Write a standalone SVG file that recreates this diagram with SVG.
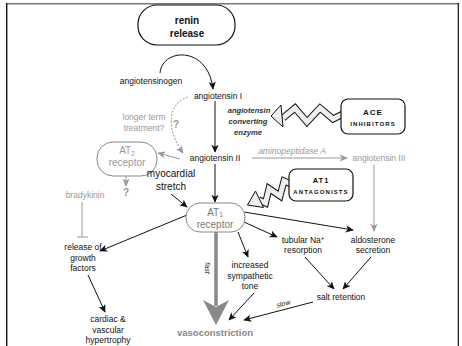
<svg xmlns="http://www.w3.org/2000/svg" width="462" height="346" viewBox="0 0 462 346">
<defs>
<style>
text{font-family:"Liberation Sans",Arial,sans-serif;font-size:8.5px;text-anchor:middle;fill:#111}
.g{fill:#999}
.it{font-style:italic}
.ace{font-style:italic;font-weight:bold;font-size:7.6px;fill:#333}
.box{fill:#fff;stroke:#111;stroke-width:1.2}
.gbox{fill:#fff;stroke:#888;stroke-width:1}
.ln{fill:none;stroke:#111;stroke-width:1}
.gl{fill:none;stroke:#999;stroke-width:1}
.caps{font-weight:bold;font-size:6px;letter-spacing:1.1px}
</style>
<marker id="ah" viewBox="0 0 10 10" refX="9" refY="5" markerWidth="8" markerHeight="8" markerUnits="userSpaceOnUse" orient="auto"><path d="M0,0.5 L10,5 L0,9.5 L2.5,5 z" fill="#111"/></marker>
<marker id="gh" viewBox="0 0 10 10" refX="9" refY="5" markerWidth="8" markerHeight="8" markerUnits="userSpaceOnUse" orient="auto"><path d="M0,0.5 L10,5 L0,9.5 L2.5,5 z" fill="#999"/></marker>
</defs>
<rect width="462" height="346" fill="#fff"/>
<g id="frame">
<line x1="6" y1="3.7" x2="459" y2="3.7" stroke="#777" stroke-width="1.6"/>
<line x1="6.7" y1="3" x2="6.7" y2="346" stroke="#111" stroke-width="1.4"/>
<line x1="458.3" y1="3" x2="458.3" y2="346" stroke="#111" stroke-width="1.2"/>
</g>
<g id="connectors">
<path class="ln" d="M160,73 C162,48 208,45 213,89" marker-end="url(#ah)"/>
<path class="ln" d="M215,101 L215,152" marker-end="url(#ah)"/>
<path d="M188,97 C168,103 165,128 183,153" fill="none" stroke="#999" stroke-width="1" stroke-dasharray="2,1.5" marker-end="url(#gh)"/>
<path class="gl" d="M180,159 L158,153" marker-end="url(#gh)"/>
<path class="gl" d="M126,176 L126,186" marker-end="url(#gh)"/>
<path class="gl" d="M82,202 L82,237 M77,237 L88,237"/>
<path class="ln" d="M171,194 L187,207" marker-end="url(#ah)"/>
<path class="ln" d="M215,164 L215,202" marker-end="url(#ah)"/>
<path class="gl" d="M252,158 L347,158" marker-end="url(#gh)"/>
<path class="gl" d="M374,165 L374,231" marker-end="url(#gh)"/>
<path class="ln" d="M187,215 L100,251" marker-end="url(#ah)"/>
<path d="M216,232 L216,306" stroke="#888" stroke-width="3.5" fill="none"/>
<polygon points="203,300 216,325 229,300 216,307" fill="#888"/>
<path class="ln" d="M238,232 L248,257" marker-end="url(#ah)"/>
<path class="ln" d="M244,222 L277,237" marker-end="url(#ah)"/>
<path class="ln" d="M244,212 L353,230" marker-end="url(#ah)"/>
<path class="ln" d="M305,257 L334,289" marker-end="url(#ah)"/>
<path class="ln" d="M371,257 L343,289" marker-end="url(#ah)"/>
<path class="ln" d="M313,302 L244,320" marker-end="url(#ah)"/>
<path class="ln" d="M254,293 L229,320" marker-end="url(#ah)"/>
<path class="ln" d="M88,275 L105,312" marker-end="url(#ah)"/>
<text class="it" transform="translate(205,268) rotate(90)" style="font-size:7px">fast</text>
<text class="it" transform="translate(284,306) rotate(-15)" style="font-size:7px">slow</text>
</g>
<g id="renin">
<rect class="box" x="138" y="5" width="97" height="40" rx="19"/>
<text x="187" y="24" style="font-weight:bold;font-size:10px">renin</text>
<text x="187" y="37" style="font-weight:bold;font-size:10px">release</text>
</g>
<g id="angiotensinogen"><text x="151" y="84">angiotensinogen</text></g>
<g id="angiotensinI"><text x="218" y="99">angiotensin I</text></g>
<g id="angiotensinII"><text x="215" y="161">angiotensin II</text></g>
<g id="angiotensinIII"><text class="g" x="379" y="161">angiotensin III</text></g>
<g id="aminopeptidase"><text class="g it" x="292" y="154">aminopeptidase A</text></g>
<g id="ace-enzyme">
<text class="ace" x="249" y="113">angiotensin</text>
<text class="ace" x="248" y="124">converting</text>
<text class="ace" x="248" y="135">enzyme</text>
</g>
<g id="ace-zigzag">
<polyline points="343,114 333,119 320,108 307,122 295,108 283,118" fill="none" stroke="#111" stroke-width="7"/>
<polyline points="343,114 333,119 320,108 307,122 295,108 283,118" fill="none" stroke="#eee" stroke-width="5"/>
<polygon points="271,116 281,105 283,127" fill="#eee" stroke="#111" stroke-width="1"/>
</g>
<g id="ace-inhibitors">
<rect class="box" x="341" y="99" width="64" height="35" rx="7"/>
<text x="373" y="115" style="font-weight:bold;font-size:8px;letter-spacing:1px">ACE</text>
<text class="caps" x="373" y="125.5">INHIBITORS</text>
</g>
<g id="at1-zigzag">
<polyline points="291,184 284,181 280,196 269,188.5 265.5,203 258.6,199.8" fill="none" stroke="#111" stroke-width="7"/>
<polyline points="291,184 284,181 280,196 269,188.5 265.5,203 258.6,199.8" fill="none" stroke="#eee" stroke-width="5"/>
<polygon points="247.5,205 255.5,191 263.5,207.5" fill="#eee" stroke="#111" stroke-width="1"/>
</g>
<g id="at1-antagonists">
<rect class="box" x="289" y="169" width="64" height="32" rx="7"/>
<text x="321" y="183" style="font-weight:bold;font-size:7.5px;letter-spacing:1px">AT1</text>
<text class="caps" x="321" y="193.5">ANTAGONISTS</text>
</g>
<g id="longer-term">
<text class="g" x="144" y="120">longer term</text>
<text class="g" x="144" y="131">treatment?</text>
<text x="176" y="128" style="font-weight:bold;font-size:10px;fill:#999">?</text>
</g>
<g id="at2">
<rect class="gbox" x="97" y="142" width="60" height="34" rx="16"/>
<text class="g" x="127" y="154" style="font-size:10px">AT<tspan style="font-size:6.5px" dy="1.5">2</tspan></text>
<text class="g" x="127" y="166" style="font-size:10px">receptor</text>
</g>
<g id="at2-q"><text x="126" y="196" style="font-weight:bold;font-size:10px;fill:#999">?</text></g>
<g id="bradykinin"><text class="g" x="85" y="198">bradykinin</text></g>
<g id="myocardial">
<text x="171" y="177" style="font-size:10px">myocardial</text>
<text x="171" y="190" style="font-size:10px">stretch</text>
</g>
<g id="at1">
<rect class="gbox" x="186" y="203" width="59" height="29" rx="14" stroke="#777"/>
<text x="215" y="215.5" style="font-size:10px;fill:#777">AT<tspan style="font-size:6.5px" dy="1.5">1</tspan></text>
<text x="215" y="228" style="font-size:10px;fill:#777">receptor</text>
</g>
<g id="growth">
<text x="83" y="250">release of</text>
<text x="83" y="260.5">growth</text>
<text x="83" y="271">factors</text>
</g>
<g id="cardiac">
<text x="108" y="322">cardiac &amp;</text>
<text x="108" y="333">vascular</text>
<text x="108" y="343">hypertrophy</text>
</g>
<g id="sympathetic">
<text x="250" y="268">increased</text>
<text x="250" y="278.5">sympathetic</text>
<text x="250" y="289">tone</text>
</g>
<g id="tubular">
<text x="303" y="243">tubular Na<tspan dy="-3" style="font-size:6px">+</tspan></text>
<text x="303" y="253">resorption</text>
</g>
<g id="aldosterone">
<text x="373" y="243">aldosterone</text>
<text x="373" y="252.5">secretion</text>
</g>
<g id="salt"><text x="341" y="300">salt retention</text></g>
<g id="vasoconstriction"><text x="215" y="335.5" style="font-weight:bold;font-size:9.5px;fill:#888">vasoconstriction</text></g>
</svg>
